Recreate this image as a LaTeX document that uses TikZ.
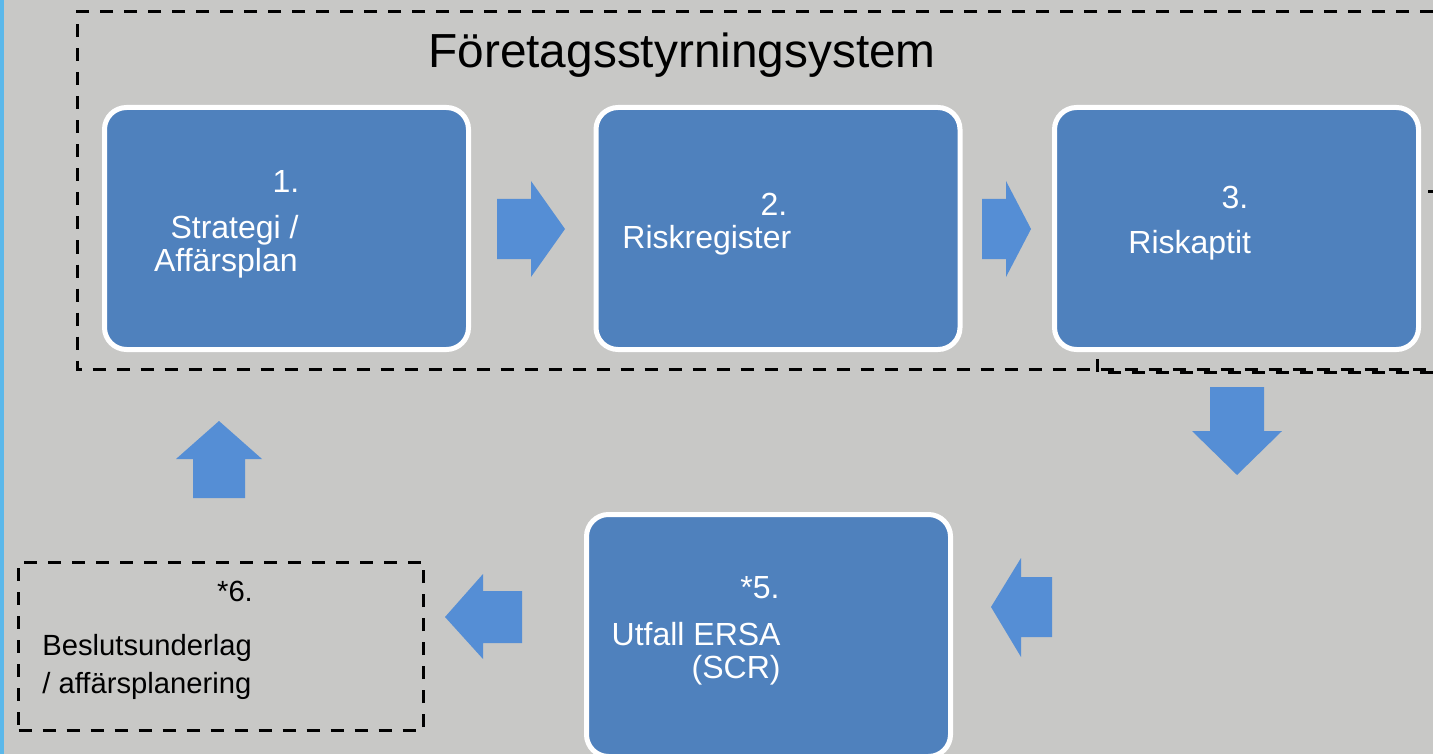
\documentclass[tikz,border=0pt]{standalone}
\usepackage{fontspec}
\setmainfont{Liberation Sans}
\definecolor{bggray}{HTML}{C8C8C6}
\definecolor{boxblue}{HTML}{4F81BD}
\definecolor{arrowblue}{HTML}{558ED5}
\definecolor{edgeblue}{HTML}{5BB8EA}
\begin{document}
\begin{tikzpicture}[x=0.5pt,y=-0.5pt,
    riskbox/.style={draw=white,line width=2.5pt,fill=boxblue,rounded corners=11pt,
      minimum width=182pt,minimum height=121pt,inner sep=0pt},
    dashframe/.style={draw=black,line width=1.5pt,dash pattern=on 6.5pt off 5.5pt},
    blockarrow/.style={fill=arrowblue},
    boxtext/.style={text=white,font=\fontsize{16}{19}\selectfont,inner sep=0pt},
    notetext/.style={text=black,font=\fontsize{14.6}{17}\selectfont,inner sep=0pt}]
    \clip (0,0) rectangle (1433,754);
    \fill [bggray] (0,0) rectangle (1433,754);
    \fill [edgeblue] (0,0) rectangle (3.5,754);
    % frame of the system
    \draw [dashframe] (1433,12) -- (77.5,12) -- (77.5,369.5) -- (1433,369.5);
    \draw [dashframe] (1097,359) -- (1097,372) -- (1433,372);
    \draw [black,line width=1.5pt] (1428,192) -- (1433,192);
    \node (title) [anchor=base west,inner sep=0pt,font=\fontsize{23.9}{29}\selectfont] at (428,68) {Företagsstyrningsystem};
    % boxes
    \node (plan) [riskbox] at (286.5,228.5) {};
    \node (register) [riskbox] at (778,228.5) {};
    \node (appetite) [riskbox] at (1236.5,228.5) {};
    \node (ersa) [riskbox] at (768.5,635.5) {};
    \node (basis) [dashframe,minimum width=202.5pt,minimum height=84pt,inner sep=0pt] at (221,646) {};
    % texts
    \node (plan num) [boxtext,anchor=base] at (286,192) {1.};
    \node (plan l1) [boxtext,anchor=base east] at (299,238) {Strategi /};
    \node (plan l2) [boxtext,anchor=base east] at (298,271) {Affärsplan};
    \node (register num) [boxtext,anchor=base] at (774,216) {2.};
    \node (register l1) [boxtext,anchor=base west] at (622,249) {Riskregister};
    \node (appetite num) [boxtext,anchor=base] at (1235,208) {3.};
    \node (appetite l1) [boxtext,anchor=base west] at (1128,253) {Riskaptit};
    \node (ersa num) [boxtext,anchor=base] at (760,598) {*5.};
    \node (ersa l1) [boxtext,anchor=base east] at (781,645) {Utfall ERSA};
    \node (ersa l2) [boxtext,anchor=base east] at (781,678) {(SCR)};
    \node (basis num) [notetext,anchor=base] at (235,601) {*6.};
    \node (basis l1) [notetext,anchor=base west] at (42,655) {Beslutsunderlag};
    \node (basis l2) [notetext,anchor=base west] at (42,693) {/ affärsplanering};
    % block arrows
    \fill [blockarrow] (497,199) -- (531,199) -- (531,181) -- (565,229) -- (531,277) -- (531,259) -- (497,259) -- cycle;
    \fill [blockarrow] (982,199) -- (1006,199) -- (1006,181) -- (1031,229) -- (1006,277) -- (1006,259) -- (982,259) -- cycle;
    \fill [blockarrow] (1210,387) -- (1264,387) -- (1264,431) -- (1282,431) -- (1237,475) -- (1192,431) -- (1210,431) -- cycle;
    \fill [blockarrow] (1052,577) -- (1021,577) -- (1021,558) -- (991,607) -- (1021,657) -- (1021,637) -- (1052,637) -- cycle;
    \fill [blockarrow] (522,591) -- (483,591) -- (483,574) -- (445,617) -- (483,659) -- (483,643) -- (522,643) -- cycle;
    \fill [blockarrow] (193,498) -- (193,459) -- (176,459) -- (219,421) -- (262,459) -- (245,459) -- (245,498) -- cycle;
\end{tikzpicture}
\end{document}
